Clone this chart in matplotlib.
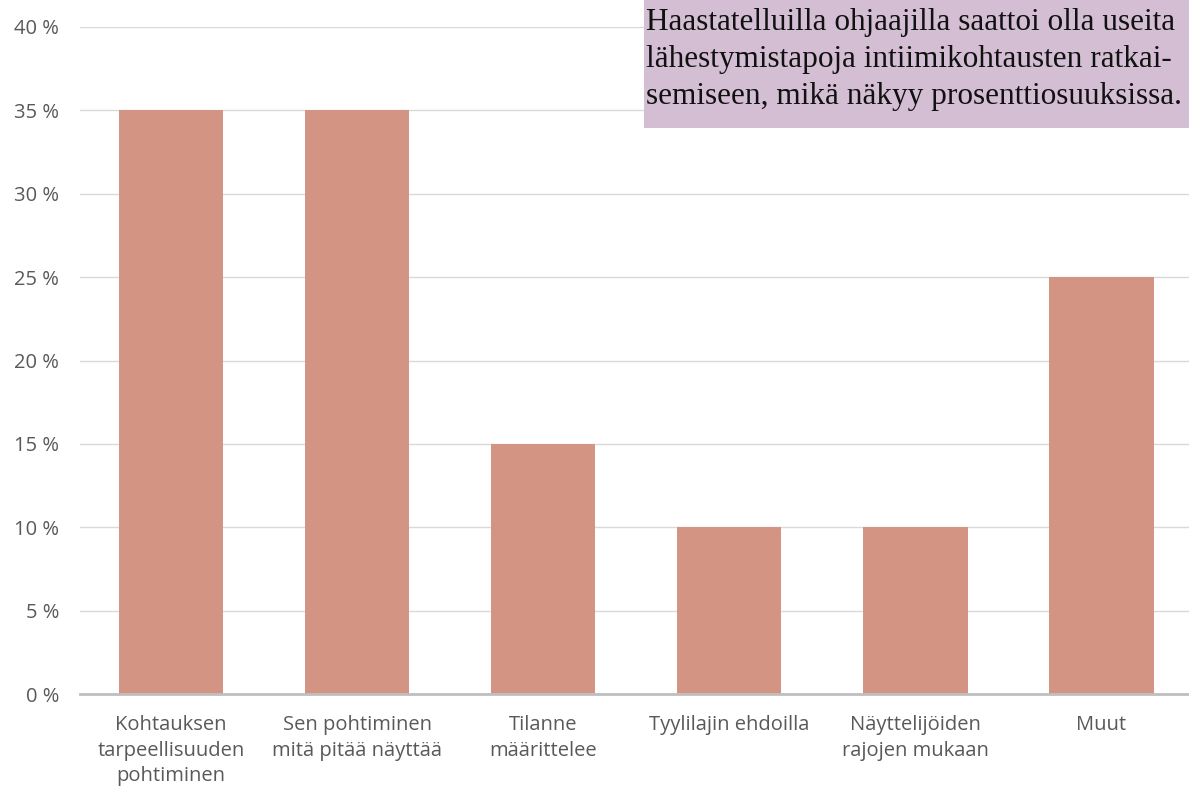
import matplotlib
matplotlib.use("Agg")
import matplotlib.pyplot as plt
from matplotlib.patches import Rectangle

categories = ["Kohtauksen\ntarpeellisuuden\npohtiminen",
              "Sen pohtiminen\nmitä pitää näyttää",
              "Tilanne\nmäärittelee",
              "Tyylilajin ehdoilla",
              "Näyttelijöiden\nrajojen mukaan",
              "Muut"]
shares = [35, 35, 15, 10, 10, 25]
yticks = [0, 5, 10, 15, 20, 25, 30, 35, 40]
note = ("Haastatelluilla ohjaajilla saattoi olla useita\n"
        "lähestymistapoja intiimikohtausten ratkai-\n"
        "semiseen, mikä näkyy prosenttiosuuksissa.")

W, H = 1189, 789
fig = plt.figure(figsize=(W / 100, H / 100), dpi=100)
ax = fig.add_axes([80 / W, (H - 694) / H, (W - 80) / W, (694 - 27) / H])

x = range(len(categories))
ax.bar(x, shares, width=0.56, color="#D39484", zorder=2)

ax.set_xlim(-0.49, 5.47)
ax.set_ylim(0, 40)
ax.set_yticks(yticks)
ax.set_yticklabels([f"{v} %" for v in yticks])
ax.set_xticks(list(x))
ax.set_xticklabels(categories, linespacing=1.38)
ax.grid(axis="y", color="#D9D9D9", linewidth=1, zorder=0)
for s in ["top", "right", "left"]:
    ax.spines[s].set_visible(False)
ax.spines["bottom"].set_color("#BFBFBF")
ax.spines["bottom"].set_linewidth(2)
ax.tick_params(length=0, labelcolor="#595959", labelsize=14.5)
ax.tick_params(axis="y", pad=15)
ax.tick_params(axis="x", pad=15)
for lab in ax.get_xticklabels() + ax.get_yticklabels():
    lab.set_fontfamily("Open Sans")

fig.add_artist(Rectangle((644 / W, (H - 128) / H), (W - 644) / W, 128 / H,
                         transform=fig.transFigure, facecolor="#D3BED3",
                         edgecolor="none", zorder=5))
fig.text(646 / W, (H - 8) / H, note, ha="left", va="top", fontsize=22.5,
         family="Liberation Serif", color="#111111", linespacing=1.36, zorder=6)

fig.savefig("out.png", dpi=100)
